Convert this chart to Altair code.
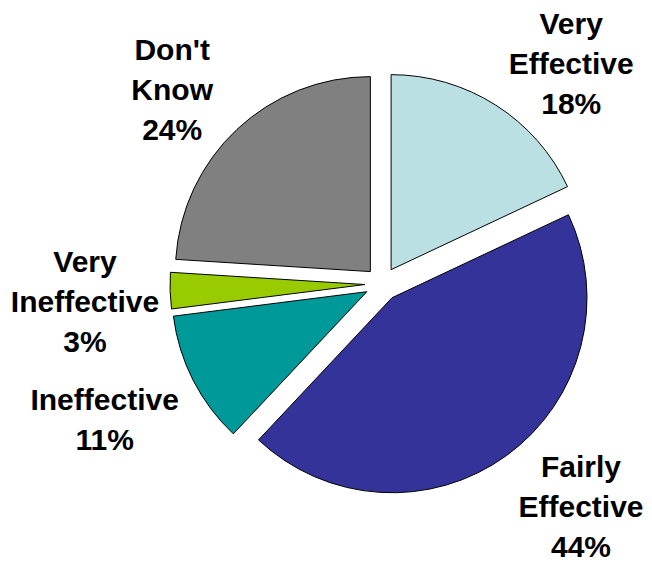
import altair as alt
import pandas as pd

categories = ["Very Effective", "Fairly Effective", "Ineffective", "Very Ineffective", "Don't Know"]
values = [18, 44, 11, 3, 24]
colors = ["#BAE0E3", "#333399", "#009999", "#99CC00", "#808080"]

df = pd.DataFrame({"cat": categories, "value": values, "order": list(range(len(values)))})

W, H = 636, 557
CX, CY = 374, 276      # pie centre (plot coords)
R = 195                # radius
EXPLODE = 17           # explosion offset
LX0, LY0 = 14, 10      # label ellipse centre shift
LRX, LRY = 327, 279    # label ellipse radii
FS = 30                # label font size
LH = 40                # label line height
CHW = 14               # approx. char width for keeping labels inside
HALF_H = 17            # approx. half text-box height

base = alt.Chart(df).transform_joinaggregate(
    total="sum(value)"
).transform_window(
    cum="sum(value)", sort=[alt.SortField("order")], frame=[None, 0]
).transform_calculate(
    a0="(datum.cum - datum.value) / datum.total * 2 * PI",
    a1="datum.cum / datum.total * 2 * PI",
    lab="split(datum.cat + ' ' + datum.value + '%', ' ')",
).transform_calculate(
    mid="(datum.a0 + datum.a1) / 2",
    maxlen="max(length(datum.lab[0]), datum.lab.length > 1 ? length(datum.lab[1]) : 0, "
           "datum.lab.length > 2 ? length(datum.lab[2]) : 0)",
).transform_calculate(
    px=f"{CX} + {EXPLODE} * sin(datum.mid)",
    py=f"{CY} - {EXPLODE} * cos(datum.mid)",
    hw=f"datum.maxlen * {CHW} / 2",
    span=f"(datum.lab.length - 1) * {LH}",
    lx0=f"{CX + LX0} + {LRX} * sin(datum.mid)",
    ly0=f"{CY + LY0} - {LRY} * cos(datum.mid) - (datum.lab.length - 1) * {LH / 2}",
).transform_calculate(
    lx=f"clamp(datum.lx0, datum.hw, {W} - datum.hw)",
    ly=f"clamp(datum.ly0, {HALF_H}, {H - HALF_H} - datum.span)",
)

pie = base.mark_arc(outerRadius=R, stroke="black", strokeWidth=1).encode(
    x=alt.X("px:Q", scale=None),
    y=alt.Y("py:Q", scale=None),
    theta=alt.Theta("a0:Q", scale=None),
    theta2="a1:Q",
    color=alt.Color("cat:N", scale=alt.Scale(domain=categories, range=colors), legend=None),
)

labels = base.mark_text(
    font="Liberation Sans", fontWeight="bold", fontSize=FS, lineHeight=LH,
    align="center", baseline="middle", color="black",
).encode(
    x=alt.X("lx:Q", scale=None),
    y=alt.Y("ly:Q", scale=None),
    text=alt.Text("lab:N"),
)

chart = alt.layer(pie, labels).properties(
    width=W, height=H, padding=0, autosize="none"
).configure_view(stroke=None)

chart.save("out.html", embed_options={"renderer": "svg", "actions": False})
